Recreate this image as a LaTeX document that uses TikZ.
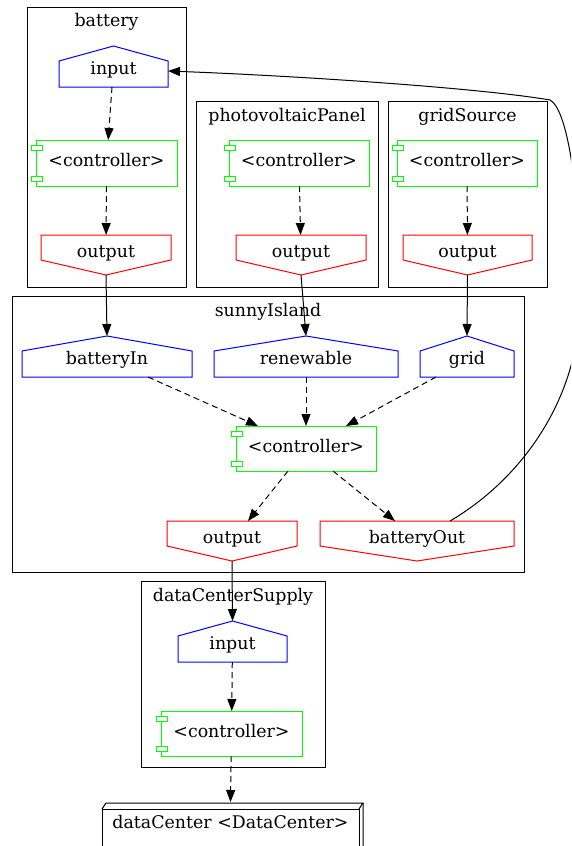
\documentclass[tikz,border=0pt]{standalone}
\usepackage{fontspec}
\setmainfont{DejaVu Serif}
\usetikzlibrary{arrows.meta}
\definecolor{gvblue}{RGB}{0,0,255}
\definecolor{gvgreen}{RGB}{0,255,0}
\definecolor{gvred}{RGB}{255,0,0}
\newcommand\gvhouse[1]{\draw[gvblue,line width=1pt] (#1.south west) -- ([yshift=-15pt]#1.north west) -- (#1.north) -- ([yshift=-15pt]#1.north east) -- (#1.south east) -- cycle;}
\newcommand\gvinvhouse[1]{\draw[gvred,line width=1pt] (#1.north west) -- (#1.north east) -- ([yshift=15pt]#1.south east) -- (#1.south) -- ([yshift=15pt]#1.south west) -- cycle;}
\newcommand\gvcomp[1]{\draw[gvgreen,line width=1pt] (#1.south west) rectangle (#1.north east);
  \filldraw[gvgreen,fill=white,line width=1pt] ([shift={(-5pt,-5pt)}]#1.north west) rectangle ([shift={(6pt,-10pt)}]#1.north west);
  \filldraw[gvgreen,fill=white,line width=1pt] ([shift={(-5pt,5pt)}]#1.south west) rectangle ([shift={(6pt,10pt)}]#1.south west);}
\begin{document}
\begin{tikzpicture}[x=1pt,y=-1pt,
  every node/.style={inner sep=0pt, outer sep=0pt},
  txt/.style={font=\fontsize{17.4}{20}\selectfont},
  clus/.style={draw=black, line width=1pt},
  clabel/.style={txt, anchor=base},
  housen/.style={txt, minimum height=41pt, text height=16pt, text depth=1pt},
  invh/.style={txt, minimum height=40pt, text height=12pt, text depth=7pt},
  comp/.style={txt, minimum height=46pt, minimum width=141pt, text height=12pt, text depth=4.5pt},
  flow/.style={-{Triangle[length=12pt,width=9pt]}, line width=1pt},
  dflow/.style={flow, dash pattern=on 6pt off 4pt},
]
\useasboundingbox (0,0) rectangle (571,846);
\clip (0,0) rectangle (571,846);

% clusters
\node[clus, minimum width=159pt, minimum height=280pt] (battery) at (106.5,147) {};
\node[clabel] (batteryl) at ([yshift=-19.5pt]battery.north) {battery};
\node[clus, minimum width=182pt, minimum height=186pt] (pv) at (287,194) {};
\node[clabel] (pvl) at ([yshift=-20pt]pv.north) {photovoltaicPanel};
\node[clus, minimum width=159pt, minimum height=186pt] (gs) at (467.5,194) {};
\node[clabel] (gsl) at ([yshift=-20pt]gs.north) {gridSource};
\node[clus, minimum width=512pt, minimum height=276pt] (si) at (268,434) {};
\node[clabel] (sil) at ([yshift=-20pt]si.north) {sunnyIsland};
\node[clus, minimum width=184pt, minimum height=186pt] (dcs) at (233,674) {};
\node[clabel] (dcsl) at ([yshift=-20pt]dcs.north) {dataCenterSupply};

% battery
\node[housen, minimum width=109pt] (bin) at (113.5,66.5) {input};
\node[comp] (bctl) at (106.5,163) {<controller>};
\node[invh, minimum width=130pt] (bout) at (106,255) {output};
% photovoltaic
\node[comp, minimum width=140pt] (pctl) at (299,163) {<controller>};
\node[invh, minimum width=130pt] (pout) at (301,255) {output};
% grid
\node[comp, minimum width=140pt] (gctl) at (467,163) {<controller>};
\node[invh, minimum width=129pt] (gout) at (467.5,255) {output};
% sunny island
\node[housen, minimum width=170pt] (sbin) at (107,356.5) {batteryIn};
\node[housen, minimum width=184pt] (sren) at (306,356.5) {renewable};
\node[housen, minimum width=94pt] (sgrid) at (467,356.5) {grid};
\node[comp, minimum width=140pt, minimum height=45pt] (sctl) at (306,448.5) {<controller>};
\node[invh, minimum width=130pt] (sout) at (232,541) {output};
\node[invh, minimum width=194pt] (sbout) at (417,541) {batteryOut};
% data center supply
\node[housen, minimum width=109pt] (din) at (232.5,641.5) {input};
\node[comp, minimum width=141pt, minimum height=45pt] (dctl) at (231.5,733.5) {<controller>};
% data center
\node[txt, minimum width=257pt, minimum height=46pt, text height=10pt, text depth=18pt] (dc) at (230.5,832) {dataCenter <DataCenter>};

% shapes
\gvhouse{bin} \gvhouse{sbin} \gvhouse{sren} \gvhouse{sgrid} \gvhouse{din}
\gvinvhouse{bout} \gvinvhouse{pout} \gvinvhouse{gout} \gvinvhouse{sout} \gvinvhouse{sbout}
\gvcomp{bctl} \gvcomp{pctl} \gvcomp{gctl} \gvcomp{sctl} \gvcomp{dctl}
\draw[line width=1pt] (dc.south west) rectangle (dc.north east);
\draw[line width=1pt] (dc.north west) -- ([shift={(4pt,6pt)}]dc.north west) -- ([shift={(4pt,6pt)}]dc.north east) -- (dc.north east);
\draw[line width=1pt] ([shift={(4pt,6pt)}]dc.north east) -- ([shift={(4pt,6pt)}]dc.south east) -- (dc.south east);

% edges
\draw[dflow] (bin) -- (bctl);
\draw[dflow] (bctl) -- (bout);
\draw[flow] (bout.south) -- (sbin.north);
\draw[dflow] (pctl) -- (pout);
\draw[flow] (pout.south) -- (sren.north);
\draw[dflow] (gctl) -- (gout);
\draw[flow] (gout.south) -- (sgrid.north);
\draw[dflow] ([xshift=41pt]sbin.south) -- ([xshift=-48pt]sctl.north);
\draw[dflow] (sren.south) -- (sctl.north);
\draw[dflow] ([xshift=-31pt]sgrid.south) -- ([xshift=40pt]sctl.north);
\draw[dflow] ([xshift=-18pt]sctl.south) -- ([xshift=16pt]sout.north);
\draw[dflow] ([xshift=27pt]sctl.south) -- ([xshift=-22pt]sbout.north);
\draw[flow] (sout.south) -- (din.north);
\draw[dflow] (din) -- (dctl);
\draw[dflow] (dctl) -- ([yshift=7pt]dc.north);
\draw[flow] ([xshift=33pt]sbout.north) .. controls (520,480) and (580,400) .. (580,300)
  .. controls (580,180) and (566,108) .. (550,100)
  .. controls (480,88) and (300,76) .. ([yshift=-4.5pt]bin.east);
\end{tikzpicture}
\end{document}
